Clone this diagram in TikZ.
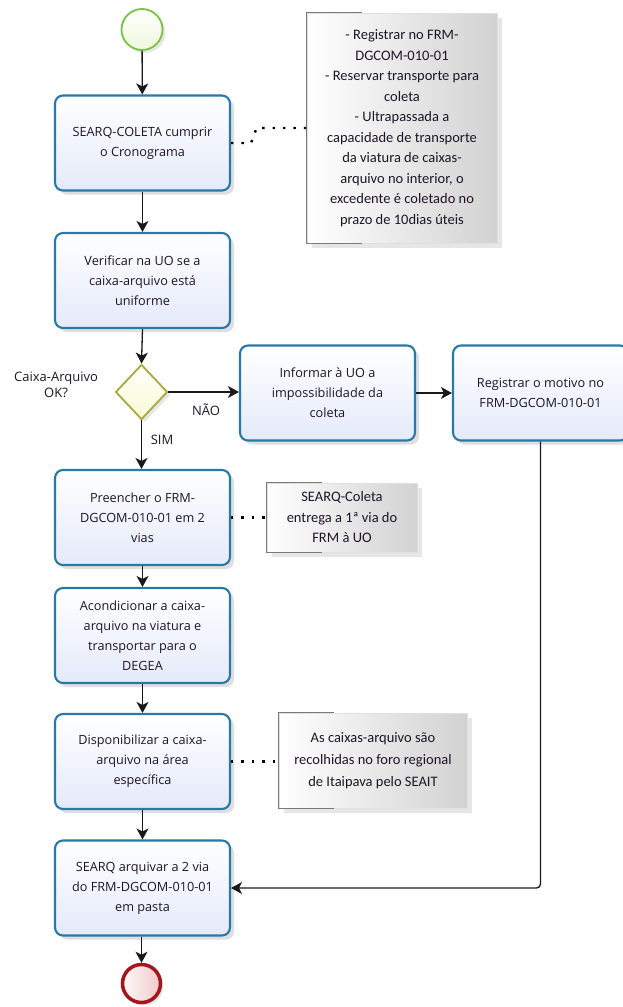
\documentclass[tikz,border=0pt]{standalone}
\usepackage{fontspec}
\setmainfont{Open Sans}
\newfontfamily\notefont{Carlito}
\usepackage{tikz}
\usetikzlibrary{positioning,arrows.meta,shapes.geometric,shadows}
\definecolor{taskline}{HTML}{2A78A6}
\definecolor{taskfill}{HTML}{E4EAF9}
\definecolor{notefill}{HTML}{D2D2D2}
\definecolor{noteline}{HTML}{7A7A7A}
\definecolor{gateline}{HTML}{A8A83C}
\definecolor{gatefill}{HTML}{FAFAD2}
\definecolor{startline}{HTML}{7BC143}
\definecolor{startfill}{HTML}{EDF8DD}
\definecolor{endline}{HTML}{A3161B}
\definecolor{endfill}{HTML}{F2C8CA}
\definecolor{txt}{HTML}{1E1626}
\tikzset{
  task/.style={rectangle, draw=taskline, line width=2.1pt, rounded corners=8pt,
               top color=white, bottom color=taskfill, minimum width=175pt, minimum height=95pt,
               align=center, text=txt, font=\fontsize{12.7}{20}\selectfont,
               drop shadow={opacity=0.25, shadow xshift=4pt, shadow yshift=-4pt}},
  note/.style={rectangle, draw=black!12, line width=0.8pt, left color=white, right color=notefill,
               align=center, text=txt, font=\notefont\fontsize{14.5}{20.5}\selectfont,
               drop shadow={opacity=0.2, shadow xshift=5pt, shadow yshift=-5pt}},
  gate/.style={diamond, draw=gateline, line width=1.8pt, top color=white, bottom color=gatefill,
               minimum width=52pt, minimum height=55pt, inner sep=0pt,
               drop shadow={opacity=0.2, shadow xshift=3pt, shadow yshift=-3pt}},
  startev/.style={circle, draw=startline, line width=1.8pt, top color=white, bottom color=startfill,
                  minimum size=41pt, drop shadow={opacity=0.2, shadow xshift=3pt, shadow yshift=-3pt}},
  endev/.style={circle, draw=endline, line width=3.5pt, left color=white!90!endfill, right color=endfill,
                minimum size=38pt, drop shadow={opacity=0.2, shadow xshift=3pt, shadow yshift=-3pt}},
  flow/.style={-{Stealth[length=11pt, width=12pt, inset=3pt]}, line width=1.3pt, draw=black!90},
  assoc/.style={line width=2.4pt, draw=black, dash pattern=on 2.4pt off 8pt},
  bracket/.style={draw=noteline, line width=1.3pt},
  lbl/.style={text=txt, font=\fontsize{13}{16}\selectfont, align=center},
}
\begin{document}
\begin{tikzpicture}[x=1pt, y=-1pt]
  \useasboundingbox (0,0) rectangle (622,1007);
  % events and tasks of the main column
  \node[startev] (inicio) at (142,29.5) {};
  \node[task] (cronograma) at (142.5,143) {SEARQ-COLETA cumprir\\o Cronograma};
  \node[task] (verificar) at (142.5,280.5) {Verificar na UO se a\\caixa-arquivo está\\uniforme};
  \node[gate] (caixaok) at (141.5,392) {};
  \node[task] (informar) at (327.5,393) {Informar à UO a\\impossibilidade da\\coleta};
  \node[task] (registrar) at (540.5,393) {Registrar o motivo no\\FRM-DGCOM-010-01};
  \node[task] (preencher) at (142.5,517.5) {Preencher o FRM-\\DGCOM-010-01 em 2\\vias};
  \node[task] (acondicionar) at (142.5,635.5) {Acondicionar a caixa-\\arquivo na viatura e\\transportar para o\\DEGEA};
  \node[task] (disponibilizar) at (142.5,761.5) {Disponibilizar a caixa-\\arquivo na área\\específica};
  \node[task] (arquivar) at (142.5,888) {SEARQ arquivar a 2 via\\do FRM-DGCOM-010-01\\em pasta};
  \node[endev] (fim) at (141.5,983.5) {};
  % annotations
  \node[note, minimum width=190pt, minimum height=230pt] (nota1) at (402,128)
    {- Registrar no FRM-\\DGCOM-010-01\\- Reservar transporte para\\coleta\\- Ultrapassada a\\capacidade de transporte\\da viatura de caixas-\\arquivo no interior, o\\excedente é coletado no\\prazo de 10dias úteis};
  \node[note, minimum width=150pt, minimum height=69pt] (nota2) at (342,517.5)
    {SEARQ-Coleta\\entrega a 1ª via do\\FRM à UO};
  \node[note, minimum width=188pt, minimum height=95pt, font=\notefont\fontsize{14.5}{22}\selectfont] (nota3) at (373,760.5)
    {As caixas-arquivo são\\recolhidas no foro regional\\de Itaipava pelo SEAIT};
  \foreach \n in {nota1,nota2,nota3}
    \draw[bracket] ([xshift=55pt]\n.north west) -- (\n.north west) -- (\n.south west) -- ([xshift=55pt]\n.south west);
  % gateway labels
  \node[lbl] (pergunta) at (56,385) {Caixa-Arquivo\\OK?};
  \node[lbl] (nao) at (206,410) {NÃO};
  \node[lbl] (sim) at (162,440) {SIM};
  % sequence flows
  \draw[flow] (inicio) -- (cronograma);
  \draw[flow] (cronograma) -- (verificar);
  \draw[flow] (verificar.south) -- (caixaok.north);
  \draw[flow] (caixaok.east) -- (informar.west |- caixaok.east);
  \draw[flow] (informar) -- (registrar);
  \draw[flow] (caixaok.south) -- (preencher.north -| caixaok.south);
  \draw[flow] (preencher) -- (acondicionar);
  \draw[flow] (acondicionar) -- (disponibilizar);
  \draw[flow] (disponibilizar) -- (arquivar);
  \draw[flow, rounded corners=4pt] (registrar.south) |- (arquivar.east);
  \draw[flow] (arquivar.south -| fim) -- (fim);
  % associations
  \draw[assoc] (cronograma.east) -- ++(20,0) -- ([xshift=-50pt]nota1.west) -- (nota1.west);
  \draw[assoc] (preencher.east) -- (nota2.west |- preencher.east);
  \draw[assoc] (disponibilizar.east) -- (nota3.west |- disponibilizar.east);
\end{tikzpicture}
\end{document}
